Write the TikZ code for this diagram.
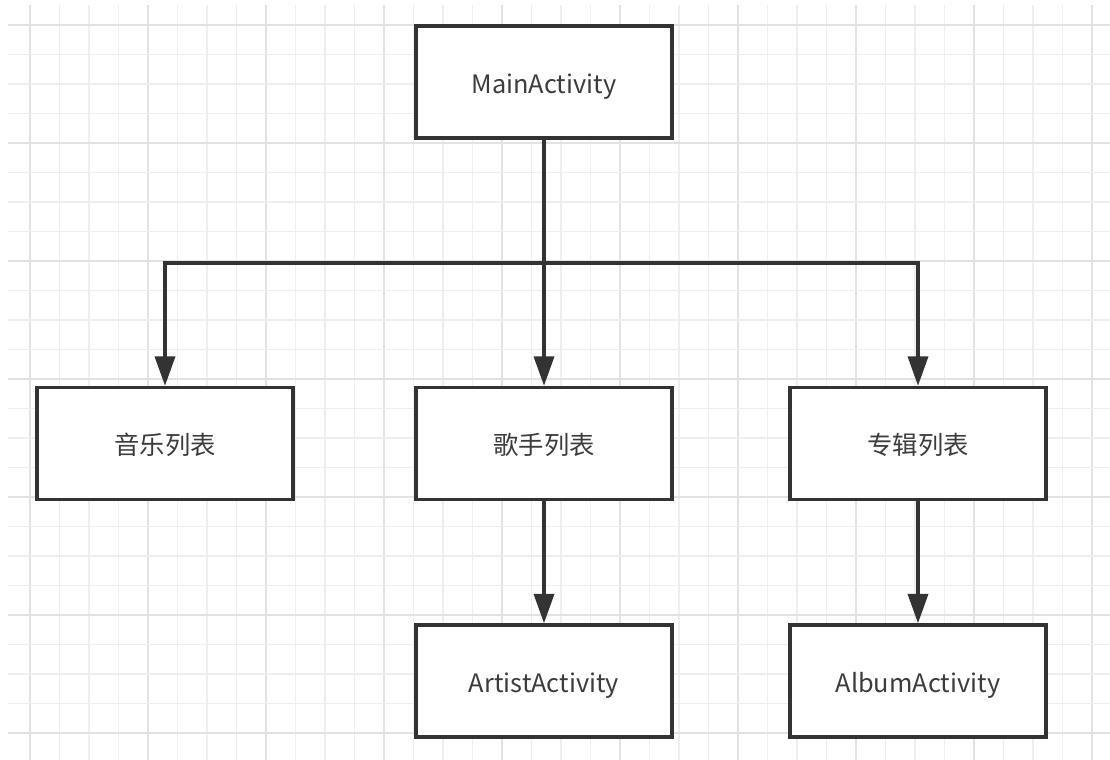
\documentclass[tikz,border=0pt]{standalone}
\usepackage{fontspec}
\setmainfont{Noto Sans CJK SC}
\usetikzlibrary{arrows.meta}
\definecolor{boxline}{HTML}{333333}
\definecolor{boxtext}{HTML}{3C3C3C}
\definecolor{gridminor}{HTML}{EEEEEE}
\definecolor{gridmajor}{HTML}{E2E2E2}
\begin{document}
\begin{tikzpicture}[x=0.75pt, y=-0.75pt, line width=2.6pt,
  act node/.style={rectangle, draw=boxline, fill=white, minimum width=192pt, minimum height=84pt, inner sep=0pt, text height=17pt, text depth=0pt, text=boxtext, font=\fontsize{19}{21}\selectfont},
  link/.style={draw=boxline, -{Triangle[length=22pt,width=15pt]}}]
\useasboundingbox (0,0) rectangle (1110,760);
% grid
\foreach \k in {0,...,36} {
  \pgfmathtruncatemacro{\m}{mod(\k,4)}
  \ifnum\m=0 \def\gc{gridmajor}\else\def\gc{gridminor}\fi
  \draw[\gc, line width=1.1pt] (30+29.5*\k,5) -- (30+29.5*\k,760);
}
\foreach \k in {0,...,24} {
  \pgfmathtruncatemacro{\m}{mod(\k,4)}
  \ifnum\m=0 \def\gc{gridmajor}\else\def\gc{gridminor}\fi
  \draw[\gc, line width=1.1pt] (8,25+29.5*\k) -- (1110,25+29.5*\k);
}
\node [act node](main) at (544,82) {MainActivity};
\node [act node](music) at (165,443.5) {音乐列表};
\node [act node](singer) at (544,443.5) {歌手列表};
\node [act node](album) at (918,443.5) {专辑列表};
\node [act node](artistact) at (544,681) {ArtistActivity};
\node [act node](albumact) at (918,681) {AlbumActivity};
\coordinate (split) at (544,263);
\path [draw=boxline] (music.north |- split) -- (album.north |- split);
\path [link] (main) -- (singer);
\path [link] (split) -| (music.north);
\path [link] (split) -| (album.north);
\path [link] (singer) -- (artistact);
\path [link] (album) -- (albumact);
\end{tikzpicture}
\end{document}
